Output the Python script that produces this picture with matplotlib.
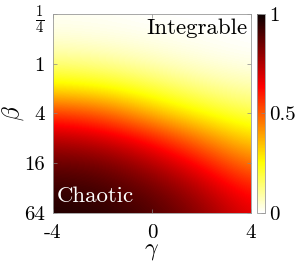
import numpy as np
import matplotlib
matplotlib.use('Agg')
import matplotlib.pyplot as plt

plt.rcParams['mathtext.fontset'] = 'cm'
plt.rcParams['font.family'] = 'cmr10'
plt.rcParams['axes.formatter.use_mathtext'] = True

# grid: gamma columns, log2(beta) rows
gamma = [-4, -2, 0, 2, 4]
log2_beta = [-2, -1, 0, 1, 2, 3, 4, 5, 6]
chaos_m4 = [0.01, 0.04, 0.13, 0.29, 0.55, 0.74, 0.86, 0.93, 0.97]
chaos_m2 = [0.01, 0.03, 0.11, 0.26, 0.50, 0.70, 0.84, 0.91, 0.95]
chaos_0 = [0.00, 0.02, 0.07, 0.19, 0.36, 0.60, 0.75, 0.85, 0.90]
chaos_p2 = [0.00, 0.01, 0.04, 0.12, 0.25, 0.44, 0.62, 0.74, 0.81]
chaos_p4 = [0.00, 0.00, 0.02, 0.08, 0.17, 0.30, 0.44, 0.58, 0.66]

ytick_vals = [-2, 0, 2, 4, 6]  # log2(beta)
ytick_labels = [r'$\frac{1}{4}$', '1', '4', '16', '64']
xtick_vals = [-4, 0, 4]
xtick_labels = ['-4', '0', '4']

Z = np.array([chaos_m4, chaos_m2, chaos_0, chaos_p2, chaos_p4]).T
dg = gamma[1] - gamma[0]
db = log2_beta[1] - log2_beta[0]

fig = plt.figure(figsize=(2.99, 2.63), dpi=100)
ax = fig.add_axes([0.177, 0.190, 0.662, 0.757])
cax = fig.add_axes([0.860, 0.190, 0.027, 0.757])

im = ax.imshow(Z, cmap='hot_r', vmin=0, vmax=1, aspect='auto',
               interpolation='bicubic', origin='upper',
               extent=[gamma[0] - dg / 2, gamma[-1] + dg / 2,
                       log2_beta[-1] + db / 2, log2_beta[0] - db / 2])
ax.set_xlim(-4, 4)
ax.set_ylim(6, -2)

ax.set_xticks(xtick_vals)
ax.set_xticklabels(xtick_labels)
ax.set_yticks(ytick_vals)
ax.set_yticklabels(ytick_labels)
ax.tick_params(direction='in', length=3, width=0.5, color='#888888',
               labelsize=15, top=True, right=True, pad=6)
ax.tick_params(axis='x', pad=8)
for s in ax.spines.values():
    s.set_color('#999999')
    s.set_linewidth(0.6)

ax.set_xlabel(r'$\gamma$', fontsize=17, labelpad=-1.5)
ax.set_ylabel(r'$\beta$', fontsize=17, labelpad=-2)

ax.text(0.985, 0.975, 'Integrable', transform=ax.transAxes,
        ha='right', va='top', fontsize=16.5, color='black')
ax.text(0.02, 0.035, 'Chaotic', transform=ax.transAxes,
        ha='left', va='bottom', fontsize=16.5, color='white')

cb = fig.colorbar(im, cax=cax, ticks=[0, 0.5, 1])
cb.ax.set_yticklabels(['0', '0.5', '1'])
cb.ax.tick_params(direction='in', length=3, width=0.5, color='#888888',
                  labelsize=15, pad=3)
cb.outline.set_edgecolor('#999999')
cb.outline.set_linewidth(0.6)

plt.savefig('out.png', dpi=100)
